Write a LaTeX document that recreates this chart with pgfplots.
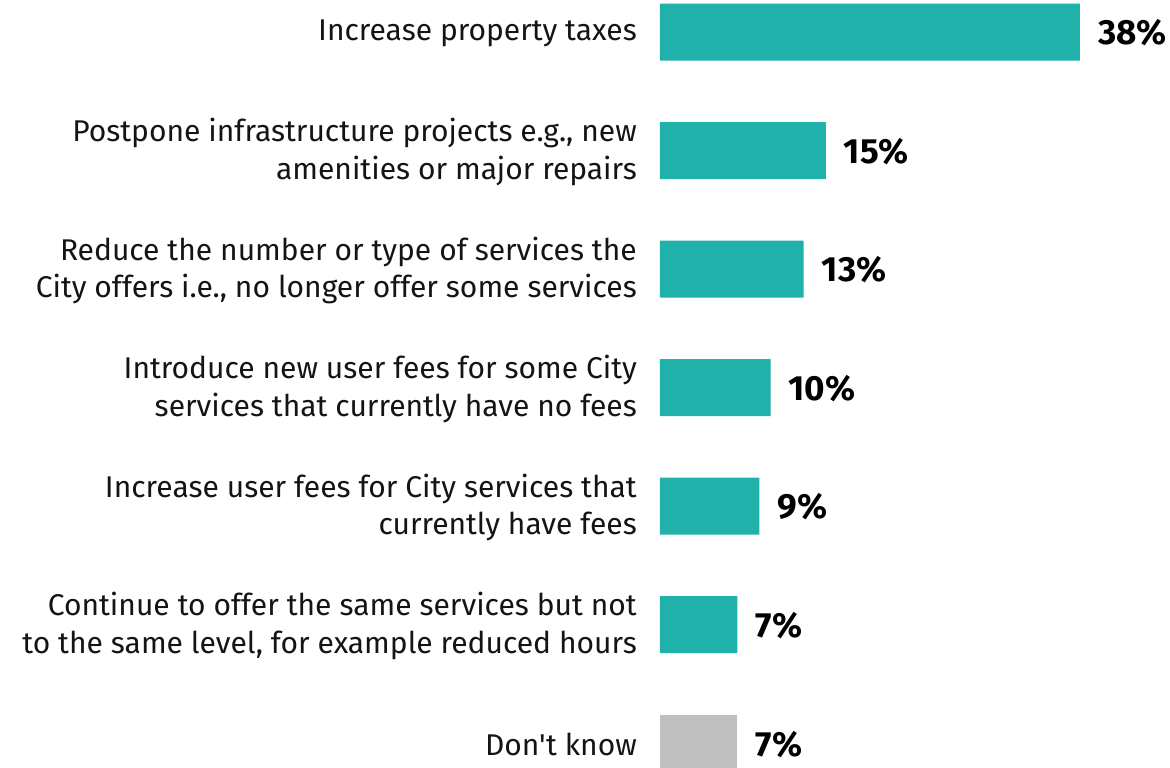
\documentclass[border=0pt]{standalone}
\usepackage{pgfplots}
\pgfplotsset{compat=1.18}
\usepackage{fontspec}
\setmainfont{Fira Sans}
\newfontfamily\labfont{Fira Sans}
\definecolor{teal1}{RGB}{32,178,170}
\definecolor{gray1}{RGB}{191,191,191}
\begin{document}
\begin{tikzpicture}
\begin{axis}[
  anchor=south west, at={(0,0)},
  scale only axis, width=510pt, height=768pt,
  xbar, bar width=57pt, bar shift=0pt,
  xmin=0, xmax=46.15,
  ymin=-0.27, ymax=6.21, y dir=reverse,
  axis line style={draw=none},
  xtick=\empty,
  ytick={0,1,2,3,4,5,6},
  yticklabels={
    {Increase property taxes},
    {Postpone infrastructure projects e.g., new\\amenities or major repairs},
    {Reduce the number or type of services the\\City offers i.e., no longer offer some services},
    {Introduce new user fees for some City\\services that currently have no fees},
    {Increase user fees for City services that\\currently have fees},
    {Continue to offer the same services but not\\to the same level, for example reduced hours},
    {Don't know}},
  major tick length=0pt,
  yticklabel style={align=right, inner sep=0pt, xshift=-23pt, yshift=-1.5pt, font=\labfont\fontsize{30}{37.5}\selectfont, text=black!92},
  point meta=x,
  /pgf/number format/assume math mode=true,
  nodes near coords={\pgfmathprintnumber{\pgfplotspointmeta}\%},
  nodes near coords style={anchor=west, inner sep=0pt, xshift=18pt, yshift=-1pt, font=\fontsize{35}{40}\bfseries\selectfont, text=black,
    /pgf/number format/assume math mode=true},
  clip=true,
]
\addplot[fill=teal1, draw=none] coordinates {(38,0) (15,1) (13,2) (10,3) (9,4) (7,5)};
\addplot[fill=gray1, draw=none] coordinates {(7,6)};
\end{axis}
\pgfresetboundingbox
\path (-660pt,0pt) rectangle (510pt,768pt);
\end{tikzpicture}
\end{document}
